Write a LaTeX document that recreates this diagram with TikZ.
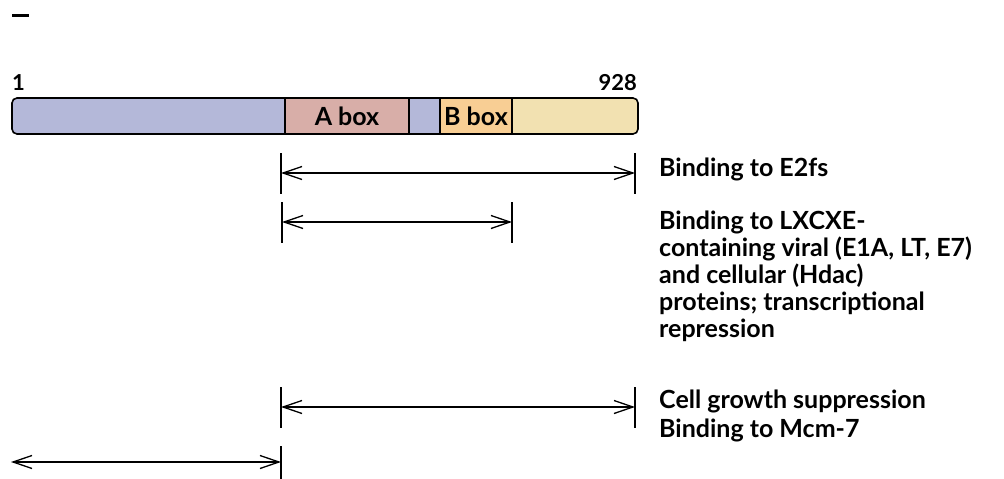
\documentclass[tikz,border=0pt]{standalone}
\usepackage{fontspec}
\setmainfont{Lato}
\usetikzlibrary{arrows.meta}
\definecolor{cblue}{HTML}{B4B8D9}
\definecolor{cpink}{HTML}{D8AEA8}
\definecolor{corange}{HTML}{F8CE94}
\definecolor{cyellow}{HTML}{F2E1B1}
\tikzset{
  lbl/.style={anchor=base west, inner sep=0pt, align=left, font=\bfseries\fontsize{25}{27}\selectfont},
  boxtxt/.style={inner sep=0pt, font=\bfseries\fontsize{25}{27}\selectfont},
  numtxt/.style={inner sep=0pt, font=\bfseries\fontsize{22}{27}\selectfont},
  span/.style={line width=1.3pt, {Straight Barb[length=19pt,width=13pt,line width=1.3pt]}-{Straight Barb[length=19pt,width=13pt,line width=1.3pt]}},
  tick/.style={line width=1.5pt},
  segline/.style={line width=1.3pt}
}
\begin{document}
\begin{tikzpicture}[x=1pt,y=-1pt]
\useasboundingbox (0,0) rectangle (1004,479);
% top-left mark
\draw[line width=3pt] (12,15.5) -- (29,15.5);
% protein bar
\begin{scope}
\clip[rounded corners=5pt] (12,98) rectangle (638,134);
\fill[cblue] (12,98) rectangle (638,134);
\fill[cpink] (285,98) rectangle (409,134);
\fill[corange] (440,98) rectangle (512,134);
\fill[cyellow] (512,98) rectangle (638,134);
\end{scope}
\draw[segline] (285,98) -- (285,134) (409,98) -- (409,134) (440,98) -- (440,134) (512,98) -- (512,134);
\draw[line width=1.6pt, rounded corners=5pt] (12,98) rectangle (638,134);
\node[boxtxt, anchor=base] (abox) at (347,125) {A box};
\node[boxtxt, anchor=base] (bbox) at (476,125) {B box};
\node[numtxt, anchor=base west] (n1) at (12,90) {1};
\node[numtxt, anchor=base east] (n928) at (637,90) {928};
% span end points
\coordinate (s1a) at (281,173); \coordinate (s1b) at (635,173);
\coordinate (s2a) at (282,222); \coordinate (s2b) at (512,222);
\coordinate (s3a) at (281,407); \coordinate (s3b) at (635,407);
\coordinate (s4a) at (11,462);  \coordinate (s4b) at (281,462);
% ticks
\foreach \c in {s1a,s1b,s2a,s2b,s3a,s3b}{
  \draw[tick] ([yshift=-20.5pt]\c) -- ([yshift=20.5pt]\c);
}
\draw[tick] ([yshift=-20pt]s4b) -- ([yshift=16pt]s4b);
% spans
\draw[span] (s1a) -- (s1b);
\draw[span] (s2a) -- (s2b);
\draw[span] (s3a) -- (s3b);
\draw[span] (s4a) -- (s4b);
% labels
\node[lbl] (l1) at (659,176) {Binding to E2fs};
\node[lbl] (l2) at (659,337) {Binding to LXCXE-\\containing viral (E1A, LT, E7)\\and cellular (Hdac)\\proteins; transcriptional\\repression};
\node[lbl] (l3) at (659,408) {Cell growth suppression};
\node[lbl] (l4) at (659,437) {Binding to Mcm-7};
\end{tikzpicture}
\end{document}
